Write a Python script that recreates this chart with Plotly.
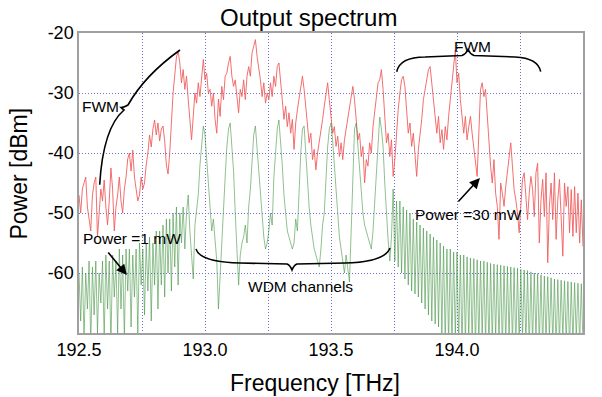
import numpy as np
import plotly.graph_objects as go

# ---------------- data ----------------
freq_start = 192.5          # THz, first sample
freq_step = 1.0 / 150.0     # THz between samples

# Power = 30 mW (red), dBm
power_30mW = [
    -47, -50, -46, -45, -44, -49, -51, -53, -47, -45,
    -44, -54, -50, -46, -48, -44.5, -49, -52, -48, -42.5,
    -46, -53, -49, -47, -44, -48, -50, -46, -44, -41,
    -40, -43, -39.5, -44, -46, -48, -47, -44, -46, -45,
    -42, -40, -37, -39, -36, -34.5, -37, -35, -38, -36,
    -35.5, -38, -42, -43.5, -40, -34, -30, -27, -24, -23,
    -25, -28.3, -26.1, -29.4, -27.2, -31, -33.9, -37.8, -33.9, -30,
    -31.7, -28.3, -30.6, -26.7, -24.4, -27.8, -26.7, -30, -29.4, -32.2,
    -30, -34.4, -36.7, -31, -33.9, -28.9, -31.1, -27.2, -26.7, -25,
    -23.9, -27.2, -28.9, -27.8, -31.1, -33.3, -29.4, -30.6, -27.8, -31.1,
    -27.2, -25.6, -27.2, -23.3, -22.2, -21.1, -23.9, -25.6, -27.8, -30.6,
    -28.3, -31.7, -30, -31.1, -28.3, -30.6, -27.2, -28.9, -25.6, -25,
    -28.9, -31.1, -34.4, -32.2, -35.6, -33.3, -36.7, -34.4, -39.4, -35,
    -32.8, -31.1, -28.9, -27.2, -29.4, -32.2, -35.6, -38.3, -36.7, -41.1,
    -39.4, -42.8, -40, -38.3, -36.7, -34.4, -32.2, -30, -28.3, -31.1,
    -33.9, -36.7, -35.6, -38.9, -37.2, -40.6, -38.3, -41.1, -37.8, -36.1,
    -34.4, -32.2, -30.6, -28.9, -31.1, -33.9, -37.8, -36.7, -40.6, -38.9,
    -45, -41.1, -42.2, -38.3, -40, -35.6, -32.8, -30, -28.3, -27.8,
    -26.1, -29.4, -34.4, -38.3, -36.7, -40.6, -37.8, -43.9, -41.1, -36.7,
    -32.8, -30, -27.8, -27.2, -28.9, -32.8, -36.7, -35, -38.9, -36.7,
    -41.1, -43.9, -39.4, -37.2, -34.4, -31.1, -29.4, -27.8, -26.1, -25.6,
    -28.3, -31.1, -34.4, -36.7, -33.9, -38.3, -36.1, -39.4, -35.6, -37.8,
    -33.9, -31.1, -28.3, -25.6, -22.8, -28.3, -26.7, -31.1, -34.4, -36.7,
    -33.9, -37.8, -35.6, -33.9, -36.7, -39.4, -42.2, -43.9, -36.7, -29.4,
    -28.3, -30.6, -29.4, -33.9, -39.4, -42.2, -45, -41.1, -46.7, -48.9,
    -54.4, -45, -46.7, -48.9, -45.6, -43.3, -40.6, -38.3, -42.2, -46.1,
    -47.8, -50, -53.3, -47.8, -44.4, -43.3, -47.8, -51.1, -46.7, -43.9,
    -46.1, -50.6, -43.3, -41.7, -55, -47.8, -44.4, -50.6, -43.3, -58.3,
    -48.9, -45, -51.1, -43.3, -54.4, -47.8, -44.4, -51.1, -57.2, -45,
    -48.9, -45.6, -53.3, -46.1, -53.9, -45.6, -53.3, -46.7, -55, -47.8,
    -55.6,
]

# Power = 1 mW (green), dBm
power_1mW = [
    -60, -68, -59, -71, -60, -66, -58, -72, -59, -67,
    -58, -70, -60, -65, -58, -71, -57, -66, -58, -72,
    -57, -64, -58, -70, -56, -66, -57, -71, -56, -63,
    -56, -69, -57, -64, -56, -70, -55, -62, -56, -67,
    -55, -63, -54, -68, -55, -62, -53, -66, -53, -62,
    -52, -64, -51, -60, -51, -63, -50, -59, -49, -62,
    -50, -55, -49, -56, -50, -47, -53, -57, -61, -52,
    -49, -47, -42, -38, -35.5, -37, -41, -46, -50, -53,
    -51, -55, -58, -66, -60, -55, -49, -44, -39, -36,
    -35, -39, -43, -50, -55, -62, -57, -55, -54, -52,
    -55, -49, -46, -41, -37, -35.5, -39, -43, -47, -51,
    -54, -56, -55, -53, -50, -52, -44, -40, -36, -34.5,
    -38, -42, -47, -50, -53, -54, -55, -56, -55, -51,
    -53, -46, -40, -36, -35.5, -40, -45, -49, -52, -54,
    -56, -57, -58, -59, -56, -52, -50, -44, -39, -36,
    -35, -38, -42, -46, -51, -54, -56, -58, -60, -57,
    -59, -61.5, -53, -43, -36, -35, -38.5, -42, -47, -50,
    -52, -53, -54, -55, -56, -53, -48, -42, -37, -34,
    -36, -39, -45, -50.5, -54.5, -58, -54, -46, -58, -48,
    -59, -48, -60, -49, -61, -49.5, -62, -50, -63, -51,
    -63.5, -51.5, -64, -52, -65, -52.5, -66, -53, -67, -53.5,
    -68, -54, -68.5, -54.5, -69, -55, -70, -55.5, -72, -56,
    -72, -56, -72, -56.5, -71, -56.5, -72, -57, -73, -57,
    -72, -57.3, -71, -57.5, -72, -57.6, -73, -57.8, -72, -58,
    -71, -58, -72, -58.2, -73, -58.4, -72, -58.5, -71, -58.6,
    -72, -58.7, -73, -58.8, -72, -58.9, -71, -59, -72, -59.1,
    -73, -59.2, -72, -59.4, -71, -59.5, -72, -59.6, -73, -59.8,
    -72, -60, -71, -60.1, -72, -60.3, -73, -60.5, -72, -60.6,
    -71, -60.8, -72, -61, -73, -61.1, -72, -61.2, -71, -61.3,
    -72, -61.4, -73, -61.5, -72, -61.6, -71, -61.7, -72, -61.8,
    -72,
]

x_tick_vals = [192.5, 193.0, 193.5, 194.0, 194.5]
x_tick_text = ["192.5", "193.0", "193.5", "194.0", "194.5"]
x_minor_vals = [192.75, 193.25, 193.75, 194.25]
y_tick_vals = [-20, -30, -40, -50, -60]
y_tick_text = ["-20", "-30", "-40", "-50", "-60"]

freq_30 = freq_start + freq_step * np.arange(len(power_30mW))
freq_1 = freq_start + freq_step * np.arange(len(power_1mW))

# ---------------- figure ----------------
FONT = "Liberation Sans, Arial, sans-serif"
RED = "rgb(240,95,95)"
GREEN = "rgb(70,150,70)"
GRID = "rgb(110,110,210)"
GRIDDASH = "1px,2px"

fig = go.Figure()
fig.add_trace(go.Scatter(x=freq_30, y=power_30mW, mode="lines",
                         line=dict(color=RED, width=0.9), name="30 mW",
                         showlegend=False))
fig.add_trace(go.Scatter(x=freq_1, y=power_1mW, mode="lines",
                         line=dict(color=GREEN, width=0.6), name="1 mW",
                         showlegend=False))

fig.update_layout(
    width=602, height=397,
    margin=dict(l=79, r=19, t=33, b=64),
    paper_bgcolor="white", plot_bgcolor="white",
    font=dict(family=FONT, color="black"),
    showlegend=False,
)

fig.update_xaxes(
    range=[192.5, 194.5], tickvals=x_tick_vals, ticktext=x_tick_text,
    tickfont=dict(size=18), ticks="", showline=True, mirror=True,
    linecolor="rgb(160,160,160)", linewidth=1.5,
    showgrid=True, gridcolor=GRID, griddash=GRIDDASH, gridwidth=1,
    minor=dict(tickvals=x_minor_vals, showgrid=True, gridcolor=GRID,
               griddash=GRIDDASH, gridwidth=1, ticks=""),
    zeroline=False,
)
fig.update_yaxes(
    range=[-70, -20], tickvals=y_tick_vals, ticktext=y_tick_text,
    tickfont=dict(size=18), ticks="", showline=True, mirror=True,
    linecolor="rgb(160,160,160)", linewidth=1.5,
    showgrid=True, gridcolor=GRID, griddash=GRIDDASH, gridwidth=1,
    zeroline=False,
)

# title and axis titles
fig.add_annotation(text="Output spectrum", xref="paper", yref="paper",
                   x=0.455, y=1.05, xanchor="center", yanchor="middle",
                   showarrow=False, font=dict(size=24, family=FONT))
fig.add_annotation(text="Frequency [THz]", xref="paper", yref="paper",
                   x=0.468, y=-0.165, xanchor="center", yanchor="middle",
                   showarrow=False, font=dict(size=23, family=FONT))
fig.add_annotation(text="Power [dBm]", xref="paper", yref="paper",
                   x=-0.12, y=0.53, xanchor="center", yanchor="middle",
                   textangle=-90, showarrow=False,
                   font=dict(size=23, family=FONT))

# text labels
lab = dict(size=15.5, family=FONT)
fig.add_annotation(text="FWM", x=192.587, y=-32.17, showarrow=False, font=lab)
fig.add_annotation(text="FWM", x=194.06, y=-22.3, showarrow=False, font=lab)
fig.add_annotation(text="Power =1 mW", x=192.71, y=-54.33, showarrow=False, font=lab)
fig.add_annotation(text="Power =30 mW", x=194.044, y=-50.33, showarrow=False, font=lab)
fig.add_annotation(text="WDM channels", x=193.377, y=-62.33, showarrow=False, font=lab)

# arrows
fig.add_annotation(x=192.690, y=-60.33, ax=192.611, ay=-56.33,
                   xref="x", yref="y", axref="x", ayref="y", text="",
                   showarrow=True, arrowhead=2, arrowsize=1.3, arrowwidth=1.6,
                   arrowcolor="black")
fig.add_annotation(x=194.091, y=-44.17, ax=194.0, ay=-48.33,
                   xref="x", yref="y", axref="x", ayref="y", text="",
                   showarrow=True, arrowhead=2, arrowsize=1.3, arrowwidth=1.6,
                   arrowcolor="black")

# braces
brace = dict(color="black", width=1.6)
fig.add_shape(type="path", xref="x", yref="y", line=brace,
              path=("M 192.5821,-45.283 Q 192.5952,-35.833 192.6786,-32.833 "
                    "Q 192.6706,-32.583 192.6667,-32.417 "
                    "Q 192.6786,-32.417 192.6944,-32.0 "
                    "Q 192.7619,-27.0 192.9008,-22.833"))
fig.add_shape(type="path", xref="x", yref="y", line=brace,
              path=("M 193.7607,-26.45 Q 193.7738,-24.0 193.873,-24.0 "
                    "L 194.0198,-23.75 Q 194.0357,-23.5 194.0437,-22.75 "
                    "Q 194.0516,-23.5 194.0675,-23.75 L 194.2302,-24.0 "
                    "Q 194.3214,-24.17 194.3321,-26.45"))
fig.add_shape(type="path", xref="x", yref="y", line=brace,
              path=("M 192.9643,-56.0 Q 192.9802,-58.17 193.1389,-58.33 "
                    "L 193.3254,-58.5 Q 193.3373,-58.67 193.3452,-59.5 "
                    "Q 193.3532,-58.67 193.3651,-58.5 L 193.5556,-58.33 "
                    "Q 193.7143,-58.17 193.7341,-55.83"))

fig.write_html("out.html")
